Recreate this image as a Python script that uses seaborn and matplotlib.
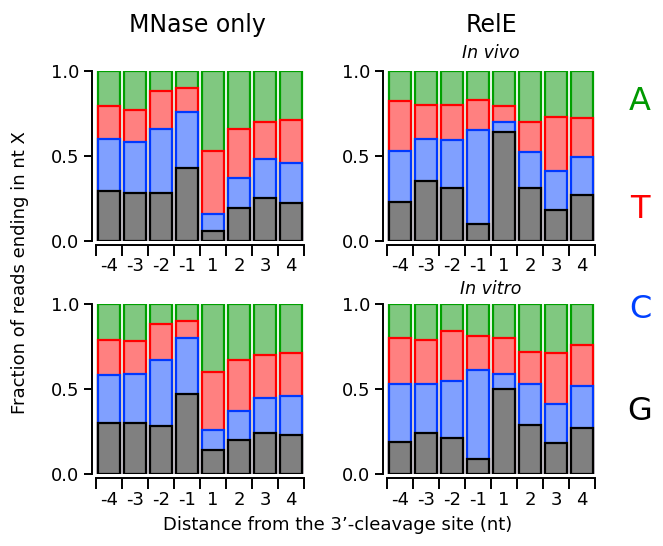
import numpy as np
import matplotlib
matplotlib.use('Agg')
from matplotlib import pyplot as plt
import seaborn as sns

sns.set_style('ticks')
plt.rcParams['font.family'] = ['DejaVu Sans']
plt.rcParams['text.color'] = 'black'
plt.rcParams['xtick.color'] = 'black'
plt.rcParams['ytick.color'] = 'black'

positions = ['-4', '-3', '-2', '-1', '1', '2', '3', '4']
bases = ['A', 'T', 'C', 'G']

# fraction of reads ending in each nt, per position (G, C, T, A)
mnase_vivo_G = [0.29, 0.28, 0.28, 0.43, 0.06, 0.19, 0.25, 0.22]
mnase_vivo_C = [0.31, 0.30, 0.38, 0.33, 0.10, 0.18, 0.23, 0.24]
mnase_vivo_T = [0.19, 0.19, 0.22, 0.14, 0.37, 0.29, 0.22, 0.25]
mnase_vivo_A = [0.21, 0.23, 0.12, 0.10, 0.47, 0.34, 0.30, 0.29]

rele_vivo_G = [0.23, 0.35, 0.31, 0.10, 0.64, 0.31, 0.18, 0.27]
rele_vivo_C = [0.30, 0.25, 0.28, 0.55, 0.06, 0.21, 0.23, 0.22]
rele_vivo_T = [0.29, 0.20, 0.21, 0.18, 0.09, 0.18, 0.32, 0.23]
rele_vivo_A = [0.18, 0.20, 0.20, 0.17, 0.21, 0.30, 0.27, 0.28]

mnase_vitro_G = [0.30, 0.30, 0.28, 0.47, 0.14, 0.20, 0.24, 0.23]
mnase_vitro_C = [0.28, 0.29, 0.39, 0.33, 0.12, 0.17, 0.21, 0.23]
mnase_vitro_T = [0.21, 0.19, 0.21, 0.10, 0.34, 0.30, 0.25, 0.25]
mnase_vitro_A = [0.21, 0.22, 0.12, 0.10, 0.40, 0.33, 0.30, 0.29]

rele_vitro_G = [0.19, 0.24, 0.21, 0.09, 0.50, 0.29, 0.18, 0.27]
rele_vitro_C = [0.34, 0.29, 0.34, 0.52, 0.09, 0.24, 0.23, 0.25]
rele_vitro_T = [0.27, 0.26, 0.29, 0.20, 0.21, 0.19, 0.30, 0.24]
rele_vitro_A = [0.20, 0.21, 0.16, 0.19, 0.20, 0.28, 0.29, 0.24]

face = {'G': '#808080', 'C': '#80a0ff', 'T': '#ff8080', 'A': '#80c880'}
edge = {'G': '#000000', 'C': '#0038ff', 'T': '#ff0000', 'A': '#00a000'}
letter_col = {'A': '#009900', 'T': '#ff0000', 'C': '#0040ff', 'G': '#000000'}

fig = plt.figure(figsize=(6.63, 5.46), dpi=100)
W, H = 663, 546


def add_ax(x0, x1, ytop, ybot):
    return fig.add_axes([x0 / W, 1 - ybot / H, (x1 - x0) / W, (ybot - ytop) / H])


axes = [add_ax(96, 304, 70.7, 240.7), add_ax(387, 595, 70.7, 240.7),
        add_ax(96, 304, 304, 474), add_ax(387, 595, 304, 474)]
panels = [(mnase_vivo_G, mnase_vivo_C, mnase_vivo_T, mnase_vivo_A),
          (rele_vivo_G, rele_vivo_C, rele_vivo_T, rele_vivo_A),
          (mnase_vitro_G, mnase_vitro_C, mnase_vitro_T, mnase_vitro_A),
          (rele_vitro_G, rele_vitro_C, rele_vitro_T, rele_vitro_A)]

for ax, (g, c, t, a) in zip(axes, panels):
    cum = np.cumsum(np.array([g, c, t, a]), axis=0)  # tops of G, C, T, A
    tops = {'G': cum[0], 'C': cum[1], 'T': cum[2], 'A': cum[3]}
    # draw from tallest to shortest so segments stack
    for b in bases:
        sns.barplot(x=positions, y=tops[b], order=positions, color=face[b],
                    edgecolor=edge[b], linewidth=1.6, width=0.84,
                    saturation=1, errorbar=None, ax=ax)
    sns.despine(ax=ax)
    ax.spines['left'].set_position(('outward', 3))
    ax.spines['bottom'].set_position(('outward', 3))
    ax.spines['left'].set_bounds(0, 1)
    ax.spines['bottom'].set_bounds(-0.5, 7.5)
    for s in ['left', 'bottom']:
        ax.spines[s].set_linewidth(1.4)
        ax.spines[s].set_color('black')
    ax.set_xlim(-0.5, 7.5)
    ax.set_ylim(0, 1)
    ax.set_yticks([0, 0.5, 1.0])
    ax.set_yticklabels(['0.0', '0.5', '1.0'])
    ax.set_xticks(range(8))
    ax.set_xticklabels(positions)
    ax.set_xticks(np.arange(-0.5, 8, 1), minor=True)
    ax.tick_params(axis='x', which='major', length=0, pad=9, labelsize=13)
    ax.tick_params(axis='x', which='minor', length=8, width=1.4,
                   direction='out', color='black')
    ax.tick_params(axis='y', length=6, width=1.4, color='black', pad=3,
                   labelsize=13)
    ax.set_xlabel('')
    ax.set_ylabel('')

fig.text(197 / W, 1 - 25 / H, 'MNase only', fontsize=17, ha='center', va='center')
fig.text(491 / W, 1 - 25 / H, 'RelE', fontsize=17, ha='center', va='center')
fig.text(491 / W, 1 - 53 / H, 'In vivo', fontsize=12.5, style='italic',
         ha='center', va='center')
fig.text(491 / W, 1 - 289 / H, 'In vitro', fontsize=12.5, style='italic',
         ha='center', va='center')
fig.text(20 / W, 1 - 273 / H, 'Fraction of reads ending in nt X', fontsize=13,
         rotation=90, ha='center', va='center')
fig.text(338 / W, 1 - 525 / H, 'Distance from the 3\u2019-cleavage site (nt)',
         fontsize=13, ha='center', va='center')

for b, y in zip(bases, [102, 210, 310, 411]):
    fig.text(640 / W, 1 - y / H, b, fontsize=23, color=letter_col[b],
             ha='center', va='center')

fig.savefig('out.png', dpi=100)
